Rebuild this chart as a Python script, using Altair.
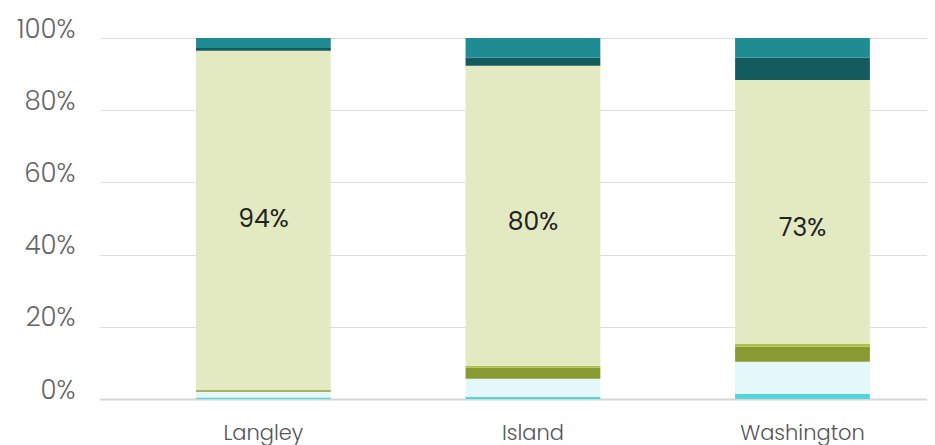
import altair as alt
import pandas as pd

locations = ["Langley", "Island", "Washington"]
series = ["s1", "s2", "s3", "s4", "s5", "s6", "s7"]
colors = ["#53d5dd", "#e4f7fa", "#8a9a32", "#acbf45", "#e3eac1", "#145b5e", "#1f8b93"]

# values per series (bottom to top), in percent, per location
s1 = [0.4, 0.6, 1.4]
s2 = [1.6, 5.0, 8.9]
s3 = [0.4, 3.1, 4.2]
s4 = [0.1, 0.5, 0.8]
s5 = [94.0, 83.1, 73.1]
s6 = [0.7, 2.2, 6.1]
s7 = [2.8, 5.5, 5.5]

label_text = ["94%", "80%", "73%"]
label_pos = [50.0, 49.0, 47.5]

vals = [s1, s2, s3, s4, s5, s6, s7]
rows = []
for si, (name, v) in enumerate(zip(series, vals)):
    for li, loc in enumerate(locations):
        rows.append({"location": loc, "series": name, "order": si, "value": v[li] / 100.0})
df = pd.DataFrame(rows)

lab = pd.DataFrame({"location": locations, "text": label_text, "pos": [p / 100.0 for p in label_pos]})

FONT = "Poppins, Inter, sans-serif"

x = alt.X(
    "location:N",
    sort=locations,
    scale=alt.Scale(paddingInner=0.5, paddingOuter=0.284, align=0.627),
    axis=alt.Axis(
        title=None, labelAngle=0, ticks=False, domain=True, domainColor="#d6d6d6",
        domainWidth=2, labelFont=FONT, labelFontSize=21, labelFontWeight=300,
        labelColor="#555555", labelPadding=40, labelBaseline="alphabetic", grid=False,
    ),
)

bars = alt.Chart(df).mark_bar().encode(
    x=x,
    y=alt.Y(
        "value:Q", stack="zero",
        scale=alt.Scale(domain=[0, 1], nice=False),
        axis=alt.Axis(
            title=None, format="%", values=[0, 0.2, 0.4, 0.6, 0.8, 1.0], ticks=False,
            domain=False, gridColor="#dddddd", gridWidth=1, labelFont=FONT,
            labelFontSize=26, labelFontWeight=300, labelColor="#666666", labelPadding=25,
            labelBaseline="alphabetic", labelOffset=-1,
        ),
    ),
    color=alt.Color("series:N", scale=alt.Scale(domain=series, range=colors), legend=None),
    order=alt.Order("order:Q", sort="ascending"),
)

texts = alt.Chart(lab).mark_text(font=FONT, fontSize=25, color="#222222", baseline="middle").encode(
    x=alt.X("location:N", sort=locations),
    y=alt.Y("pos:Q"),
    text="text:N",
)

chart = alt.layer(bars, texts).properties(
    width=827, height=361,
    autosize=alt.AutoSizeParams(type="none"),
    padding={"left": 92, "top": 30, "right": 0, "bottom": 46},
).configure_view(stroke=None)

chart.save("out.html", embed_options={"renderer": "svg", "actions": False})
